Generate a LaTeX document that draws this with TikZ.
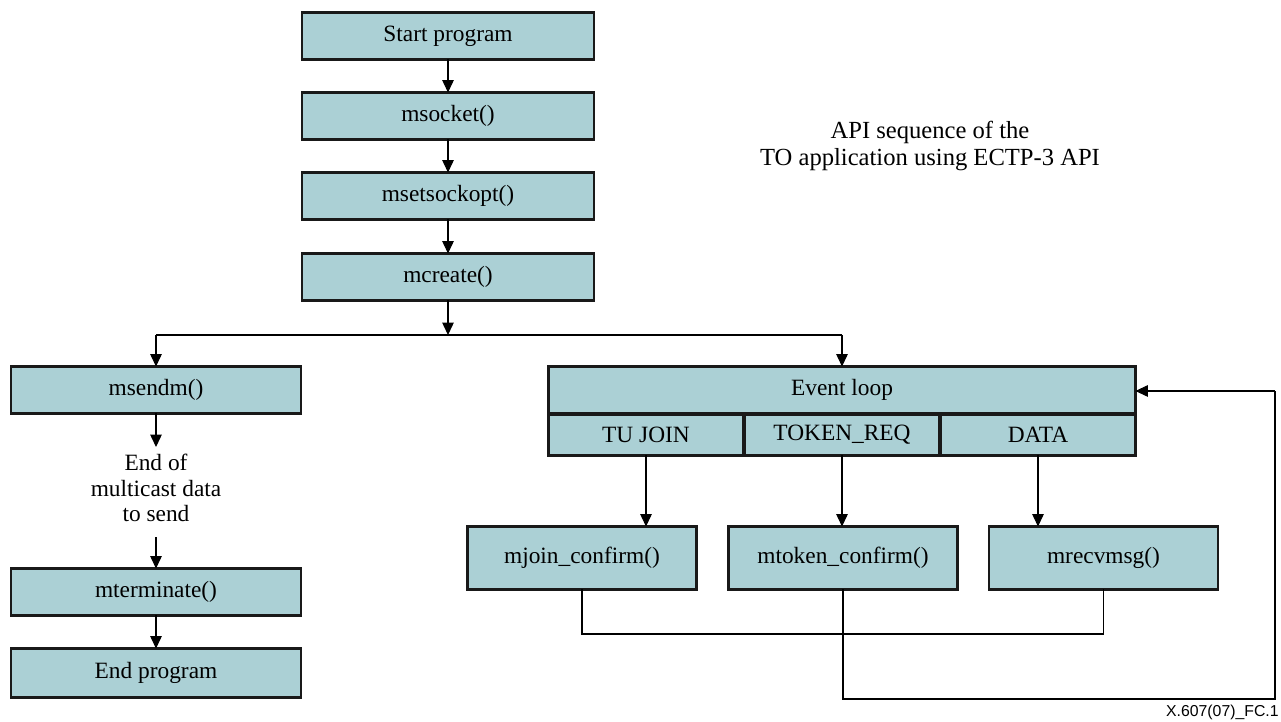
\documentclass[tikz,border=0pt]{standalone}
\usepackage{fontspec}
\setmainfont{Liberation Serif}
\newfontfamily\figfont{Liberation Sans}
\usetikzlibrary{arrows.meta}
\definecolor{boxfill}{HTML}{ABD0D5}
\tikzset{
	apibox/.style={draw=black!90, line width=1.5pt, fill=boxfill, inner sep=0pt, outer sep=0pt,
		minimum width=5.84cm, minimum height=0.94cm, font=\fontsize{13.3}{16}\selectfont},
	cellbox/.style={apibox, minimum width=3.9cm, minimum height=0.82cm},
	callbox/.style={apibox, minimum width=4.58cm, minimum height=1.26cm},
	flow/.style={line width=0.6pt, -{Triangle[length=7pt,width=6.5pt]}},
	link/.style={line width=0.6pt}
}

\begin{document}
\begin{tikzpicture}[x=0.02cm, y=-0.02cm]
			%%%%% START %%%%%
			\useasboundingbox (0, 0) rectangle (1281, 722);
			
			\node[apibox] (start) at (448, 36) {Start program};
			\node[apibox] (socket) at (448, 116) {msocket()};
			\node[apibox] (sockopt) at (448, 196) {msetsockopt()};
			\node[apibox] (create) at (448, 277) {mcreate()};
			\draw[flow] (start) -- (socket);
			\draw[flow] (socket) -- (sockopt);
			\draw[flow] (sockopt) -- (create);
			
			\coordinate (split) at (448, 335);
			\coordinate (splitL) at (156, 335);
			\coordinate (splitR) at (842, 335);
			\draw[flow] (create) -- (split);
			\draw[link] (splitL) -- (splitR);
			
			%% sender side
			\node[apibox, minimum width=5.8cm] (sendm) at (156, 390) {msendm()};
			\node[align=center, inner sep=0pt, font=\fontsize{13.3}{14.7}\selectfont] (eod) at (156, 488) {End of\\multicast data\\to send};
			\coordinate (eodtop) at (156, 447);
			\coordinate (eodbot) at (156, 537);
			\node[apibox, minimum width=5.8cm] (terminate) at (156, 592) {mterminate()};
			\node[apibox, minimum width=5.8cm, minimum height=0.98cm] (stop) at (156, 673) {End program};
			\draw[flow] (splitL) -- (sendm);
			\draw[flow] (sendm) -- (eodtop);
			\draw[flow] (eodbot) -- (terminate);
			\draw[flow] (terminate) -- (stop);
			
			%% receiver side
			\node[apibox, minimum width=11.74cm] (loop) at (842, 390) {Event loop};
			\node[cellbox] (join) at (646, 435) {TU JOIN};
			\node[cellbox] (tokreq) at (842, 435) {TOKEN\_REQ};
			\node[cellbox] (data) at (1038, 435) {DATA};
			\draw[flow] (splitR) -- (loop);
			
			\node[callbox] (jconf) at (582, 558) {mjoin\_confirm()};
			\node[callbox] (tconf) at (843, 558) {mtoken\_confirm()};
			\node[callbox] (recv) at (1103.5, 558) {mrecvmsg()};
			\draw[flow] (join.south) -- (join.south |- jconf.north);
			\draw[flow] (tokreq.south) -- (tokreq.south |- tconf.north);
			\draw[flow] (data.south) -- (data.south |- recv.north);
			
			\coordinate (joinL) at (582, 634);
			\coordinate (backB) at (843, 699);
			\coordinate (backR) at (1275, 699);
			\coordinate (backT) at (1275, 391);
			\draw[link] (jconf.south) -- (joinL) -| (recv.south);
			\draw[link] (tconf.south) -- (backB) -- (backR) -- (backT);
			\draw[flow] (backT) -- (loop.east |- backT);
			
			\node[align=center, inner sep=0pt, font=\fontsize{14}{15}\selectfont] (title) at (930, 146) {API sequence of the\\TO application using ECTP-3 API};
			\node[anchor=east, inner sep=0pt, font=\figfont\fontsize{9}{10}\selectfont] (figid) at (1279, 712) {X.607(07)\_FC.1};
			%%%%% END %%%%%
\end{tikzpicture}
\end{document}
